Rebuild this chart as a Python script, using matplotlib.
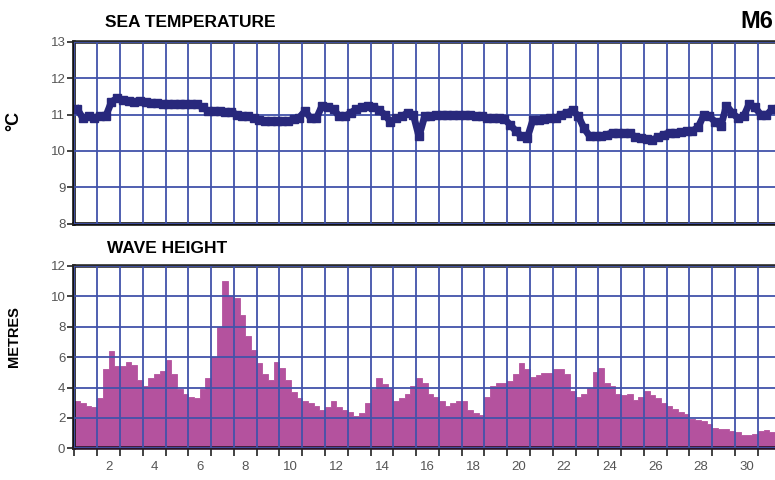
import numpy as np
import matplotlib.pyplot as plt
import matplotlib.ticker as ticker

plt.rcParams['font.family'] = ['Liberation Sans', 'DejaVu Sans']

# sea temperature, one value per quarter day (days 0..31)
temp = [
    11.15, 10.90, 10.95, 10.92,   # day 1
    10.95, 10.95, 11.35, 11.45,
    11.40, 11.38, 11.36, 11.38,
    11.35, 11.32, 11.32, 11.30,
    11.30, 11.28, 11.28, 11.30,
    11.28, 11.28, 11.20, 11.10,
    11.10, 11.10, 11.08, 11.08,
    11.00, 10.95, 10.95, 10.90,
    10.85, 10.82, 10.82, 10.82,
    10.82, 10.82, 10.88, 10.92,
    11.10, 10.90, 10.90, 11.25,   # day 11
    11.20, 11.15, 10.95, 10.95,
    11.05, 11.15, 11.20, 11.23,
    11.22, 11.12, 11.00, 10.80,
    10.90, 10.95, 11.05, 11.00,
    10.40, 10.95, 10.95, 11.00,
    11.00, 11.00, 11.00, 11.00,
    11.00, 10.98, 10.95, 10.95,
    10.92, 10.90, 10.90, 10.88,
    10.72, 10.55, 10.40, 10.35,
    10.85, 10.86, 10.88, 10.90,   # day 21
    10.90, 11.00, 11.05, 11.12,
    10.95, 10.62, 10.40, 10.40,
    10.40, 10.45, 10.50, 10.50,
    10.50, 10.50, 10.38, 10.36,
    10.33, 10.30, 10.38, 10.45,
    10.50, 10.50, 10.52, 10.55,
    10.55, 10.65, 10.98, 10.95,
    10.80, 10.68, 11.25, 11.05,
    10.90, 10.95, 11.30, 11.20,
    11.00, 10.98, 11.15, 11.15,   # day 31
]

# wave height (m), one value per quarter day
wave = [
    3.1, 3.0, 2.8, 2.75,   # day 1
    3.3, 5.2, 6.4, 5.4,
    5.4, 5.7, 5.5, 4.5,
    4.1, 4.6, 4.9, 5.1,
    5.8, 4.9, 3.9, 3.6,
    3.4, 3.3, 3.9, 4.6,
    6.0, 8.0, 11.0, 10.0,
    9.9, 8.8, 7.4, 6.5,
    5.6, 4.9, 4.5, 5.7,
    5.3, 4.5, 3.7, 3.3,
    3.1, 3.0, 2.8, 2.55,   # day 11
    2.75, 3.1, 2.75, 2.5,
    2.4, 2.1, 2.3, 3.0,
    3.9, 4.6, 4.2, 4.0,
    3.1, 3.3, 3.6, 4.1,
    4.6, 4.3, 3.6, 3.4,
    3.1, 2.8, 3.0, 3.1,
    3.1, 2.5, 2.3, 2.2,
    3.4, 4.1, 4.3, 4.3,
    4.4, 4.9, 5.6, 5.2,
    4.7, 4.8, 4.95, 4.95,  # day 21
    5.2, 5.2, 4.9, 3.8,
    3.4, 3.6, 4.0, 5.0,
    5.3, 4.3, 4.1, 3.6,
    3.5, 3.6, 3.2, 3.4,
    3.8, 3.5, 3.3, 3.0,
    2.8, 2.6, 2.4, 2.25,
    1.9, 1.85, 1.8, 1.6,
    1.35, 1.3, 1.25, 1.15,
    1.1, 0.9, 0.9, 0.95,
    1.15, 1.2, 1.1, 1.1,   # day 31
]

n_days = 31
day_labels = [str(d) for d in range(2, 31, 2)]
temp_ticks = [8, 9, 10, 11, 12, 13]
wave_ticks = [0, 2, 4, 6, 8, 10, 12]

step = n_days / len(wave)
edges = np.arange(len(wave) + 1) * step
t_x = np.arange(len(temp)) * step + step / 2

grid_col = '#4253aa'
lab_col = '#555555'
fill_col = '#b4529e'

W, H = 775, 480
fig = plt.figure(figsize=(W / 100, H / 100), dpi=100)
ax1 = fig.add_axes([74.4 / W, (H - 223.5) / H, 706.2 / W, 181.5 / H])
ax2 = fig.add_axes([74.4 / W, (H - 448.3) / H, 706.2 / W, 182.3 / H])

for ax in (ax1, ax2):
    ax.set_xlim(0, n_days)
    ax.xaxis.set_major_locator(ticker.MultipleLocator(1))
    ax.grid(True, color=grid_col, linewidth=1.3)
    ax.set_axisbelow(False)
    ax.spines['right'].set_visible(False)
    for s in ('left', 'top', 'bottom'):
        ax.spines[s].set_linewidth(2.6)
    ax.spines['left'].set_color('#111111')
    ax.spines['top'].set_color('#2a2a2a')
    ax.tick_params(axis='y', length=5, width=1.2, color='#222222',
                   labelsize=9.5, labelcolor=lab_col, pad=1.5)

# top panel
ax1.set_ylim(8, 13)
ax1.set_yticks(temp_ticks)
ax1.tick_params(axis='x', bottom=False, labelbottom=False)
ax1.spines['bottom'].set_color('#111111')
ax1.plot(t_x, temp, color='#28287c', linewidth=5, marker='s',
         markersize=5.5, zorder=3)

# bottom panel
ax2.set_ylim(0, 12)
ax2.set_yticks(wave_ticks)
ax2.stairs(wave, edges, fill=True, facecolor=fill_col, edgecolor=fill_col,
           linewidth=0.6, zorder=1)
ax2.spines['bottom'].set_color('#2a1228')
ax2.xaxis.set_major_formatter(ticker.NullFormatter())
ax2.set_xticks(np.arange(1.5, 30, 2), minor=True)
ax2.set_xticklabels(day_labels, minor=True)
ax2.tick_params(axis='x', which='major', length=6, width=1.2, color='#222222')
ax2.tick_params(axis='x', which='minor', length=0, labelsize=9.5,
                labelcolor=lab_col, pad=9)

# titles
fig.text(105 / W, 1 - 27 / H, 'SEA TEMPERATURE', fontsize=12.5,
         fontweight='bold', va='baseline')
fig.text(107 / W, 1 - 253 / H, 'WAVE HEIGHT', fontsize=12.5,
         fontweight='bold', va='baseline')
fig.text(773 / W, 1 - 28 / H, 'M6', fontsize=17, fontweight='bold',
         ha='right', va='baseline')
fig.text(14 / W, 1 - 121 / H, '°C', fontsize=13, fontweight='bold',
         rotation=90, ha='center', va='center')
fig.text(14 / W, 1 - 337 / H, 'METRES', fontsize=10.5, fontweight='bold',
         rotation=90, ha='center', va='center')

fig.savefig('out.png', dpi=100)
